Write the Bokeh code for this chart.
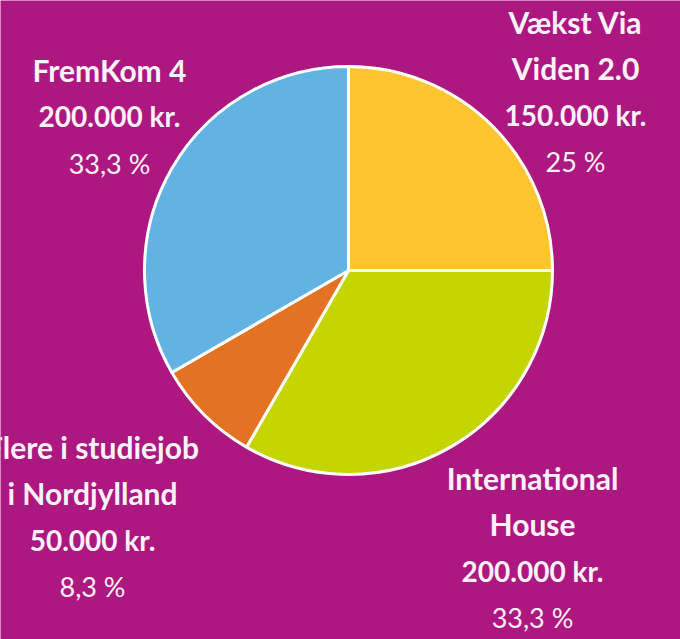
import math
from bokeh.plotting import figure
from bokeh.models import Range1d, ColumnDataSource
from bokeh.embed import file_html
from bokeh.resources import INLINE
from bokeh.core.properties import value

# ---- data ----
names = ["Vækst Via\nViden 2.0", "International\nHouse", "Flere i studiejob\ni Nordjylland", "FremKom 4"]
amounts = [150000, 200000, 50000, 200000]
colors = ["#FEC52E", "#C5D500", "#E37222", "#62B3E4"]

# ---- layout (page pixels) ----
W, H = 680, 639
BG = "#AD1780"
TXT = "#FDF2F9"
CX, CY, R = 348, 270, 204
label_anchor = [(575, 32), (532, 488), (92, 457), (109, 80)]
LINE = 46.8
SHIFT = 11
FONT = "Lato"


def py(Y):
    return H - Y


total = sum(amounts)
starts, ends, cum = [], [], 0
for a in amounts:
    starts.append(math.pi / 2 - cum / total * 2 * math.pi)
    cum += a
    ends.append(math.pi / 2 - cum / total * 2 * math.pi)

p = figure(width=W, height=H, x_range=Range1d(0, W), y_range=Range1d(0, H),
           output_backend="svg", toolbar_location=None, min_border=0)
p.axis.visible = False
p.grid.visible = False
p.outline_line_color = None
p.background_fill_color = BG
p.border_fill_color = BG

src = ColumnDataSource(dict(x=[CX] * len(amounts), y=[py(CY)] * len(amounts),
                            s=starts, e=ends, c=colors))
p.wedge(x="x", y="y", radius=R, start_angle="s", end_angle="e", direction="clock",
        fill_color="c", line_color="white", line_width=3, source=src)

bold_x, bold_y, bold_t = [], [], []
amt_x, amt_y, amt_t = [], [], []
pct_x, pct_y, pct_t = [], [], []
for (ax, ay), n, a in zip(label_anchor, names, amounts):
    ay = ay - SHIFT
    lines = n.split("\n")
    for i, ln in enumerate(lines):
        bold_x.append(ax); bold_y.append(py(ay + i * LINE)); bold_t.append(ln)
    k = len(lines)
    amt_x.append(ax); amt_y.append(py(ay + k * LINE))
    amt_t.append(f"{a:,}".replace(",", ".") + " kr.")
    pv = a / total * 100
    s = f"{pv:.1f}".replace(".", ",")
    if s.endswith(",0"):
        s = s[:-2]
    pct_x.append(ax); pct_y.append(py(ay + (k + 1) * LINE)); pct_t.append(s + " %")

p.text(x=bold_x, y=bold_y, text=bold_t, text_font=value(FONT), text_font_style="bold",
       text_font_size="30px", text_align="center", text_baseline="alphabetic", text_color=TXT)
p.text(x=amt_x, y=amt_y, text=amt_t, text_font=value(FONT), text_font_style="bold",
       text_font_size="28px", text_align="center", text_baseline="alphabetic", text_color=TXT)
p.text(x=pct_x, y=pct_y, text=pct_t, text_font=value(FONT), text_font_style="normal",
       text_font_size="27px", text_align="center", text_baseline="alphabetic", text_color=TXT)

open("out.html", "w").write(file_html(p, INLINE))
